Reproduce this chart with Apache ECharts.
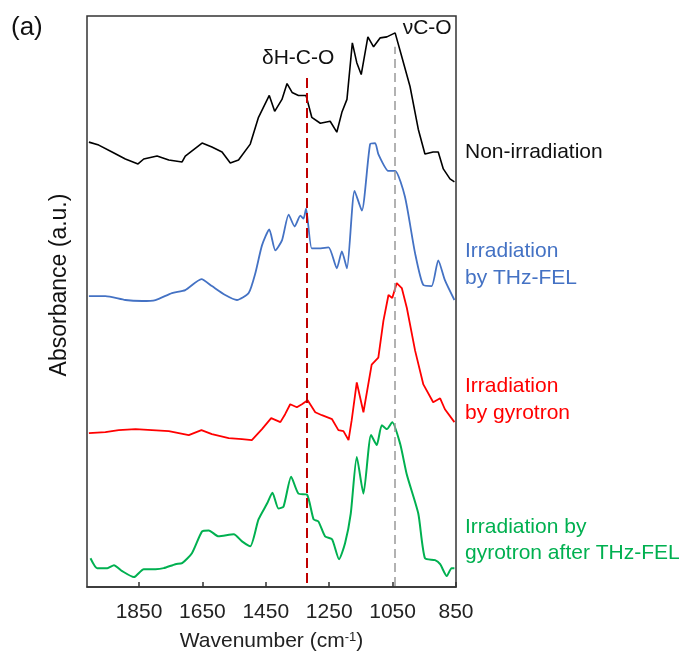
<!DOCTYPE html>
<html>
<head>
<meta charset="utf-8">
<script src="https://cdn.jsdelivr.net/npm/echarts@6/dist/echarts.min.js"></script>
<style>
  html, body { margin: 0; padding: 0; background: #fff; }
  #main { width: 686px; height: 657px; }
</style>
</head>
<body>
<div id="main"></div>
<script>
// wavenumber (cm-1) and absorbance (a.u., offset stacked)
var nonIrrX = [2008, 1977, 1935, 1893, 1853, 1835, 1793, 1756, 1714, 1704, 1651, 1620, 1588, 1562, 1536, 1499, 1473, 1439, 1422, 1399, 1383, 1367, 1347, 1323, 1305, 1278, 1247, 1226, 1210, 1194, 1177, 1163, 1149, 1128, 1110, 1089, 1068, 1042, 1021, 995, 969, 948, 922, 906, 890, 869, 855];
var nonIrrY = [448, 445, 438, 431, 426, 431, 434, 430, 428, 434, 447, 443, 438, 427, 430, 446, 473, 495, 479, 491, 507, 498, 495, 495, 473, 467, 469, 458, 478, 491, 548, 528, 516, 554, 544, 553, 554, 558, 534, 504, 461, 436, 438, 438, 421, 411, 408];

var felX = [2008, 1956, 1893, 1840, 1798, 1746, 1704, 1653, 1620, 1578, 1541, 1504, 1483, 1462, 1439, 1420, 1399, 1378, 1359, 1341, 1331, 1323, 1305, 1284, 1252, 1226, 1210, 1194, 1170, 1147, 1121, 1105, 1095, 1063, 1042, 1011, 979, 953, 927, 906, 885, 855];
var felY = [293, 293, 289, 288, 289, 296, 299, 310, 303, 294, 289, 296, 316, 344, 360, 339, 349, 375, 363, 374, 371, 381, 341, 341, 342, 321, 338, 321, 399, 379, 446, 447, 436, 419, 419, 393, 336, 304, 303, 329, 309, 289];

var gyroX = [2008, 1956, 1914, 1861, 1809, 1756, 1693, 1653, 1620, 1567, 1525, 1494, 1462, 1433, 1404, 1389, 1373, 1352, 1336, 1318, 1294, 1273, 1241, 1221, 1205, 1189, 1179, 1163, 1142, 1116, 1095, 1079, 1063, 1051, 1037, 1021, 1005, 979, 953, 922, 900, 885, 855];
var gyroY = [155, 156, 158, 159, 158, 157, 153, 158, 154, 150, 149, 148, 159, 170, 166, 174, 184, 181, 184, 188, 176, 173, 169, 158, 157, 148, 168, 206, 176, 224, 231, 268, 294, 291, 306, 301, 281, 238, 204, 186, 190, 179, 166];

var bothX = [2003, 1982, 1950, 1929, 1903, 1866, 1835, 1798, 1772, 1735, 1714, 1683, 1651, 1630, 1599, 1551, 1525, 1499, 1473, 1446, 1429, 1410, 1394, 1370, 1347, 1320, 1299, 1284, 1263, 1241, 1219, 1200, 1182, 1163, 1142, 1118, 1100, 1084, 1068, 1051, 1026, 1005, 969, 948, 916, 900, 879, 864, 855];
var bothY = [29, 19, 19, 22, 16, 10, 18, 18, 19, 23, 24, 34, 56, 57, 51, 53, 46, 41, 68, 84, 95, 79, 81, 111, 94, 93, 68, 66, 51, 48, 28, 44, 74, 131, 94, 153, 143, 163, 159, 166, 144, 113, 74, 29, 27, 23, 11, 19, 19];

var xTicks = [850, 1050, 1250, 1450, 1650, 1850];
var bandHCO = 1320;   // δH-C-O
var bandCO = 1043;    // νC-O

var FONT = "'Liberation Sans', Arial, sans-serif";

function pairs(xs, ys) {
  return xs.map(function (x, i) { return [x, ys[i]]; });
}

var myChart = echarts.init(document.getElementById('main'));

myChart.setOption({
  animation: false,
  grid: {
    left: 87, right: 230, top: 16, bottom: 66,
    show: true, borderColor: '#333', borderWidth: 1.5
  },
  xAxis: {
    type: 'value',
    inverse: true,
    min: 850,
    max: 2014,
    interval: 200,
    splitLine: { show: false },
    axisLine: { lineStyle: { color: '#333', width: 1.5 } },
    axisTick: { inside: true, length: 5, lineStyle: { color: '#333', width: 1.5 } },
    axisLabel: {
      margin: 15, color: '#222', fontSize: 21, fontFamily: FONT,
      showMaxLabel: false,
      formatter: function (v) { return xTicks.indexOf(v) >= 0 ? String(v) : ''; }
    },
    name: 'Wavenumber (cm{sup|-1})',
    nameLocation: 'middle',
    nameGap: 44,
    nameTextStyle: {
      color: '#222', fontSize: 21, fontFamily: FONT,
      rich: { sup: { fontSize: 13, verticalAlign: 'top', padding: [0, 0, 8, 0], color: '#222', fontFamily: FONT } }
    }
  },
  yAxis: { type: 'value', min: 0, max: 575, show: false },
  series: [
    {
      name: 'Non-irradiation', type: 'line', showSymbol: false,
      data: pairs(nonIrrX, nonIrrY),
      lineStyle: { color: '#000', width: 1.6 }
    },
    {
      name: 'Irradiation by THz-FEL', type: 'line', showSymbol: false, smooth: 0.2,
      data: pairs(felX, felY),
      lineStyle: { color: '#4472C4', width: 1.8 }
    },
    {
      name: 'Irradiation by gyrotron', type: 'line', showSymbol: false,
      data: pairs(gyroX, gyroY),
      lineStyle: { color: '#FF0000', width: 1.8 }
    },
    {
      name: 'Irradiation by gyrotron after THz-FEL', type: 'line', showSymbol: false, smooth: 0.2,
      data: pairs(bothX, bothY),
      lineStyle: { color: '#00B050', width: 2 },
      markLine: {
        silent: true, symbol: 'none', label: { show: false },
        data: [
          [{ coord: [bandHCO, 4], lineStyle: { color: '#C00000', width: 2, type: [10, 5] } }, { coord: [bandHCO, 516] }],
          [{ coord: [bandCO, 1], lineStyle: { color: '#999', width: 1.5, type: [9, 5] } }, { coord: [bandCO, 544] }]
        ]
      },
      markPoint: {
        silent: true, symbol: 'circle', symbolSize: 0,
        label: { show: true, position: 'inside', color: '#111', fontSize: 21, fontFamily: FONT },
        data: [
          { coord: [1348, 532], label: { formatter: 'δH-C-O' } },
          { coord: [941, 563], label: { formatter: 'νC-O' } }
        ]
      }
    }
  ],
  graphic: [
    { type: 'text', left: 11, top: 15, style: { text: '(a)', fontSize: 26, fontFamily: FONT, fill: '#111' } },
    { type: 'text', x: 60, y: 285, rotation: Math.PI / 2,
      style: { text: 'Absorbance (a.u.)', fontSize: 23, fontFamily: FONT, fill: '#111', align: 'center', verticalAlign: 'middle' } },
    { type: 'text', x: 465, y: 152, style: { text: 'Non-irradiation', fontSize: 21, fontFamily: FONT, fill: '#111', verticalAlign: 'middle' } },
    { type: 'text', x: 465, y: 252, style: { text: 'Irradiation\nby THz-FEL', fontSize: 21, lineHeight: 27, fontFamily: FONT, fill: '#4472C4', verticalAlign: 'top' }, top: 238, left: 465 },
    { type: 'text', left: 465, top: 373, style: { text: 'Irradiation\nby gyrotron', fontSize: 21, lineHeight: 27, fontFamily: FONT, fill: '#FF0000' } },
    { type: 'text', left: 465, top: 514, style: { text: 'Irradiation by\ngyrotron after THz-FEL', fontSize: 21, lineHeight: 26, fontFamily: FONT, fill: '#00B050' } }
  ]
});
</script>
</body>
</html>
